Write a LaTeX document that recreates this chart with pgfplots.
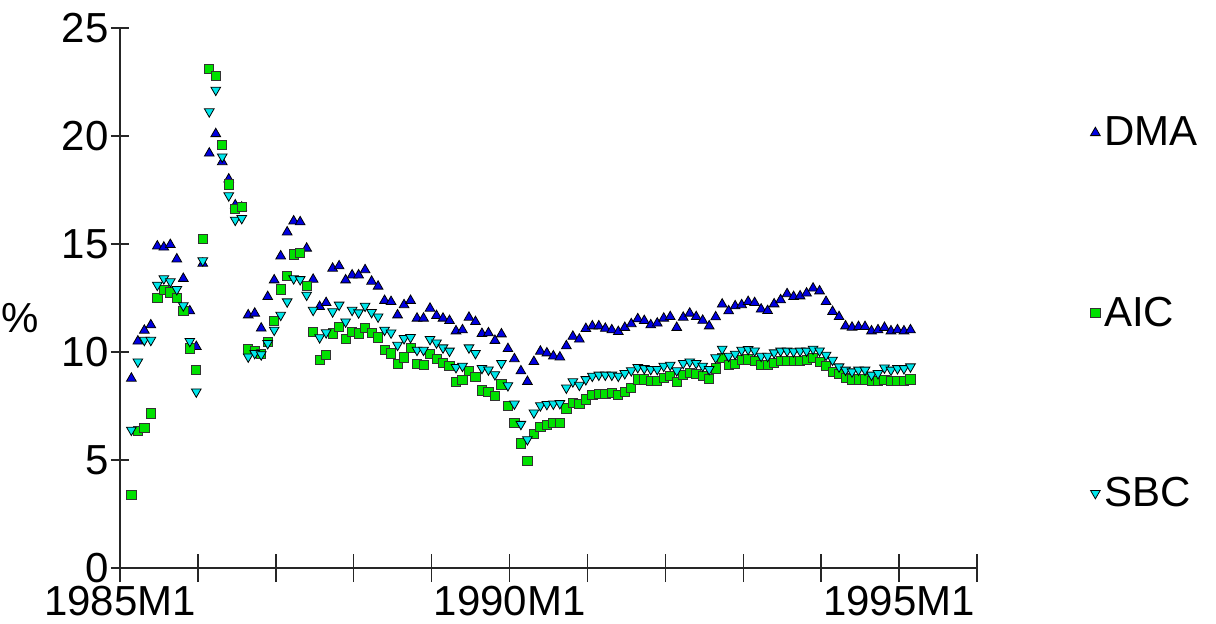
\documentclass[border=0pt]{standalone}
\usepackage{fontspec}
\setmainfont{Liberation Sans}
\usepackage{pgfplots}
\pgfplotsset{compat=1.18}
\usepackage{pgfplotstable}
\definecolor{cDMA}{RGB}{0,0,225}
\definecolor{cAIC}{RGB}{0,225,0}
\definecolor{cSBC}{RGB}{0,230,235}

\pgfplotstableread{
t v
2 8.78
3 10.5
4 11.0
5 11.25
6 14.9
7 14.85
8 14.97
9 14.3
10 13.4
11 11.9
12 10.25
13 14.1
14 19.2
15 20.1
16 18.8
17 18.0
18 16.8
19 16.7
20 11.71
21 11.79
22 11.1
23 12.56
24 13.33
25 14.44
26 15.55
27 16.06
28 16.02
29 14.8
30 13.36
31 12.1
32 12.28
33 13.87
34 13.98
35 13.33
36 13.56
37 13.56
38 13.8
39 13.27
40 13.04
41 12.38
42 12.33
43 11.71
44 12.18
45 12.38
46 11.56
47 11.56
48 12.02
49 11.68
50 11.56
51 11.45
52 10.97
53 11.02
54 11.6
55 11.4
56 10.85
57 10.88
58 10.53
59 10.83
60 10.15
61 9.68
62 9.12
63 8.63
64 9.55
65 10.03
66 9.95
67 9.81
68 9.76
69 10.28
70 10.72
71 10.59
72 11.08
73 11.2
74 11.2
75 11.09
76 11.02
77 10.94
78 11.13
79 11.3
80 11.53
81 11.45
82 11.25
83 11.33
84 11.56
85 11.63
86 11.13
87 11.6
88 11.79
89 11.63
90 11.46
91 11.2
92 11.62
93 12.21
94 11.9
95 12.13
96 12.18
97 12.33
98 12.28
99 11.98
100 11.91
101 12.22
102 12.41
103 12.69
104 12.56
105 12.59
106 12.72
107 12.95
108 12.82
109 12.33
110 11.87
111 11.63
112 11.2
113 11.14
114 11.17
115 11.17
116 10.97
117 11.02
118 11.13
119 10.97
120 11.02
121 10.97
122 11.02
}\dma

\pgfplotstableread{
t v
2 3.38
3 6.36
4 6.47
5 7.16
6 12.5
7 12.87
8 12.76
9 12.5
10 11.9
11 10.17
12 9.17
13 15.22
14 23.09
15 22.78
16 19.58
17 17.76
18 16.62
19 16.7
20 10.12
21 10.05
22 9.92
23 10.45
24 11.45
25 12.9
26 13.52
27 14.52
28 14.6
29 13.06
30 10.94
31 9.63
32 9.86
33 10.86
34 11.17
35 10.6
36 10.94
37 10.86
38 11.13
39 10.89
40 10.68
41 10.09
42 9.94
43 9.44
44 9.75
45 10.2
46 9.44
47 9.4
48 9.91
49 9.68
50 9.48
51 9.35
52 8.63
53 8.7
54 9.12
55 8.86
56 8.22
57 8.15
58 7.98
59 8.5
60 7.5
61 6.7
62 5.77
63 4.96
64 6.2
65 6.54
66 6.62
67 6.7
68 6.7
69 7.39
70 7.65
71 7.59
72 7.81
73 8.01
74 8.06
75 8.06
76 8.09
77 8.01
78 8.16
79 8.32
80 8.73
81 8.73
82 8.66
83 8.66
84 8.81
85 8.89
86 8.6
87 8.94
88 9.04
89 9.0
90 8.88
91 8.74
92 9.24
93 9.71
94 9.4
95 9.44
96 9.63
97 9.66
98 9.58
99 9.4
100 9.4
101 9.48
102 9.6
103 9.6
104 9.58
105 9.6
106 9.63
107 9.71
108 9.55
109 9.35
110 9.09
111 8.98
112 8.81
113 8.73
114 8.73
115 8.73
116 8.66
117 8.66
118 8.7
119 8.66
120 8.66
121 8.66
122 8.73
}\aic

\pgfplotstableread{
t v
2 6.39
3 9.55
4 10.55
5 10.55
6 13.1
7 13.4
8 13.26
9 12.9
10 12.15
11 10.5
12 8.16
13 14.23
14 21.13
15 22.13
16 19.04
17 17.24
18 16.11
19 16.19
20 9.78
21 9.94
22 9.88
23 10.4
24 11.02
25 11.71
26 12.33
27 13.4
28 13.36
29 12.64
30 11.94
31 10.67
32 10.9
33 11.87
34 12.18
35 11.4
36 11.94
37 11.82
38 12.13
39 11.84
40 11.63
41 11.02
42 10.89
43 10.32
44 10.63
45 10.68
46 10.09
47 10.09
48 10.59
49 10.43
50 10.2
51 10.05
52 9.29
53 9.35
54 10.2
55 9.94
56 9.25
57 9.18
58 8.96
59 9.48
60 8.45
61 7.6
62 6.66
63 5.95
64 7.19
65 7.52
66 7.58
67 7.6
68 7.62
69 8.34
70 8.63
71 8.47
72 8.73
73 8.89
74 8.94
75 8.94
76 8.94
77 8.89
78 9.01
79 9.14
80 9.29
81 9.24
82 9.2
83 9.2
84 9.35
85 9.4
86 9.14
87 9.48
88 9.55
89 9.48
90 9.35
91 9.2
92 9.74
93 10.14
94 9.81
95 9.91
96 10.09
97 10.12
98 10.06
99 9.81
100 9.81
101 9.97
102 10.05
103 10.05
104 10.02
105 10.05
106 10.05
107 10.14
108 10.06
109 9.86
110 9.63
111 9.32
112 9.17
113 9.09
114 9.17
115 9.17
116 8.94
117 9.01
118 9.27
119 9.17
120 9.24
121 9.24
122 9.32
}\sbc

\begin{document}
\begin{tikzpicture}
\useasboundingbox (0,0) rectangle (608pt,311.5pt);
\begin{axis}[
  at={(60pt,27.5pt)}, anchor=south west,
  scale only axis, width=428.5pt, height=270pt,
  xmin=0.25, xmax=132.25, ymin=0, ymax=25,
  axis x line*=bottom, axis y line*=left,
  axis line style={line width=0.7pt, black!85},
  xtick={0.25,12.25,...,132.25},
  xticklabels={1985M1,{},{},{},{},1990M1,{},{},{},{},1995M1,{}},
  ytick={0,5,10,15,20,25},
  tick align=center,
  major tick style={line width=0.7pt, black!85},
  xtick style={/pgfplots/major tick length=14pt},
  ytick style={/pgfplots/major tick length=9pt},
  /pgf/number format/assume math mode=true,
  ticklabel style={font=\fontsize{21}{25}\selectfont},
  xticklabel style={yshift=-3.5pt},
  ylabel={\%},
  ylabel style={at={(axis description cs:-0.117,0.463)}, rotate=-90, anchor=center, font=\fontsize{21}{25}\selectfont},
  clip=false,
  legend style={draw=none, fill=none, at={(axis description cs:1.125,0.472)}, anchor=west,
    font=\fontsize{21}{25}\selectfont, row sep=70pt},
  legend cell align=left,
  legend image code/.code={\draw[#1] plot coordinates {(0pt,0pt)};},
]
\addplot[only marks, mark=triangle*, mark size=2.8pt, draw=black, fill=cDMA, line width=0.4pt] table[x=t,y=v]{\dma};
\addlegendentry{DMA}
\addplot[only marks, mark=square*, mark size=2.3pt, draw=black!80, fill=cAIC, line width=0.4pt] table[x=t,y=v]{\aic};
\addlegendentry{AIC}
\addplot[only marks, mark=triangle*, mark size=2.8pt, mark options={rotate=180}, draw=black, fill=cSBC, line width=0.4pt] table[x=t,y=v]{\sbc};
\addlegendentry{SBC}
\end{axis}
\end{tikzpicture}
\end{document}
